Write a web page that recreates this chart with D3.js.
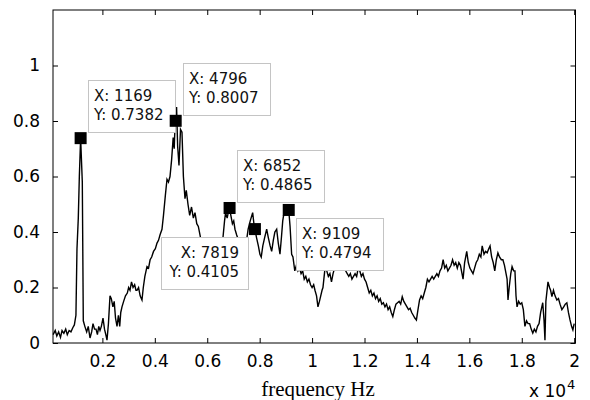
<!DOCTYPE html>
<html>
<head>
<meta charset="utf-8">
<script src="https://cdn.jsdelivr.net/npm/d3@7/dist/d3.min.js"></script>
<style>
  html, body { margin: 0; padding: 0; background: #fff; }
  svg { display: block; }
</style>
</head>
<body>
<div id="chart"></div>
<script>
// Magnitude spectrum: sample frequencies (Hz) and normalised amplitude
const freqHz = [
  120, 200, 260, 330, 400, 460, 530, 600, 660, 730,
  800, 870, 930, 990, 1030, 1080, 1120, 1169, 1233, 1271,
  1330, 1400, 1460, 1527, 1590, 1641, 1700, 1756, 1810, 1860,
  1908, 1960, 2023, 2080, 2130, 2175, 2230, 2290, 2340, 2400,
  2450, 2500, 2557, 2610, 2660, 2700, 2747, 2810, 2880, 2950,
  3000, 3053, 3110, 3170, 3230, 3280, 3320, 3380, 3440, 3510,
  3560, 3620, 3701, 3760, 3820, 3880, 3950, 4020, 4083, 4140,
  4200, 4273, 4330, 4400, 4464, 4520, 4579, 4640, 4700, 4740,
  4769, 4796, 4830, 4870, 4922, 4980, 5036, 5090, 5151, 5200,
  5265, 5330, 5400, 5470, 5532, 5600, 5660, 5723, 5800, 5880,
  5960, 6040, 6120, 6200, 6280, 6360, 6440, 6520, 6600, 6660,
  6700, 6760, 6800, 6852, 6900, 6960, 7010, 7058, 7120, 7190,
  7260, 7330, 7400, 7460, 7500, 7560, 7640, 7733, 7780, 7819,
  7880, 7950, 8010, 8060, 8120, 8190, 8267, 8330, 8400, 8458,
  8520, 8580, 8649, 8710, 8775, 8830, 8880, 8930, 9000, 9050,
  9109, 9160, 9220, 9270, 9340, 9400, 9460, 9520, 9580, 9640,
  9700, 9760, 9820, 9880, 9940, 10000, 10060, 10110, 10170, 10224,
  10280, 10330, 10380, 10415, 10460, 10500, 10560, 10620, 10680, 10740,
  10800, 10860, 10920, 10980, 11040, 11100, 11160, 11220, 11280, 11340,
  11400, 11460, 11520, 11580, 11640, 11700, 11760, 11820, 11880, 11940,
  12000, 12060, 12120, 12180, 12240, 12300, 12360, 12420, 12480, 12540,
  12600, 12660, 12720, 12780, 12840, 12900, 12960, 13020, 13080, 13140,
  13200, 13260, 13320, 13380, 13440, 13500, 13560, 13620, 13680, 13740,
  13800, 13860, 13920, 13980, 14040, 14100, 14160, 14220, 14280, 14340,
  14400, 14460, 14520, 14580, 14640, 14700, 14760, 14820, 14880, 14940,
  15000, 15060, 15120, 15180, 15240, 15300, 15360, 15420, 15480, 15540,
  15600, 15660, 15720, 15760, 15820, 15900, 15960, 16020, 16080, 16140,
  16200, 16260, 16320, 16380, 16440, 16490, 16560, 16620, 16680, 16740,
  16790, 16850, 16910, 16970, 17030, 17090, 17150, 17220, 17280, 17340,
  17400, 17440, 17475, 17520, 17580, 17630, 17690, 17740, 17780, 17820,
  17880, 17940, 18000, 18060, 18120, 18180, 18240, 18300, 18360, 18420,
  18480, 18540, 18600, 18660, 18720, 18800, 18850, 18885, 18920, 19000,
  19060, 19100, 19150, 19210, 19270, 19340, 19400, 19460, 19530, 19600,
  19660, 19720, 19780, 19840, 19900, 19950, 20000
];
const magnitude = [
  0.03, 0.045, 0.025, 0.04, 0.02, 0.045, 0.035, 0.05, 0.03, 0.045,
  0.04, 0.055, 0.065, 0.1, 0.34, 0.45, 0.6, 0.7382, 0.58, 0.08,
  0.06, 0.04, 0.06, 0.018, 0.04, 0.07, 0.05, 0.05, 0.03, 0.06,
  0.045, 0.06, 0.09, 0.05, 0.03, 0.01, 0.07, 0.17, 0.16, 0.13,
  0.15, 0.09, 0.06, 0.1, 0.06, 0.11, 0.13, 0.15, 0.17, 0.18,
  0.2, 0.19, 0.22, 0.2, 0.21, 0.19, 0.19, 0.2, 0.17, 0.155,
  0.2, 0.24, 0.275, 0.27, 0.3, 0.31, 0.33, 0.34, 0.36, 0.37,
  0.39, 0.41, 0.46, 0.53, 0.59, 0.58, 0.6, 0.66, 0.74, 0.7,
  0.78, 0.8007, 0.85, 0.71, 0.64, 0.77, 0.76, 0.6, 0.52, 0.55,
  0.5, 0.46, 0.49, 0.45, 0.47, 0.43, 0.42, 0.39, 0.35, 0.32,
  0.34, 0.3, 0.33, 0.36, 0.33, 0.35, 0.37, 0.36, 0.38, 0.44,
  0.47, 0.45, 0.47, 0.4865, 0.46, 0.43, 0.44, 0.41, 0.39, 0.37,
  0.35, 0.34, 0.33, 0.35, 0.37, 0.41, 0.44, 0.47, 0.43, 0.4105,
  0.38, 0.35, 0.32, 0.31, 0.35, 0.38, 0.41, 0.38, 0.35, 0.33,
  0.37, 0.4, 0.41, 0.36, 0.32, 0.38, 0.44, 0.47, 0.48, 0.47,
  0.4794, 0.42, 0.32, 0.31, 0.26, 0.28, 0.26, 0.27, 0.25, 0.26,
  0.23, 0.24, 0.22, 0.23, 0.21, 0.2, 0.21, 0.19, 0.17, 0.13,
  0.15, 0.17, 0.19, 0.2, 0.24, 0.275, 0.26, 0.24, 0.25, 0.22,
  0.25, 0.27, 0.29, 0.3, 0.28, 0.29, 0.27, 0.28, 0.26, 0.25,
  0.24, 0.25, 0.23, 0.24, 0.25, 0.24, 0.27, 0.26, 0.24, 0.25,
  0.23, 0.22, 0.2, 0.18, 0.19, 0.17, 0.18, 0.16, 0.17, 0.15,
  0.16, 0.14, 0.145, 0.13, 0.14, 0.12, 0.13, 0.11, 0.095, 0.12,
  0.14, 0.145, 0.15, 0.14, 0.167, 0.15, 0.14, 0.13, 0.12, 0.125,
  0.11, 0.1, 0.09, 0.083, 0.12, 0.155, 0.17, 0.16, 0.18, 0.2,
  0.23, 0.22, 0.23, 0.24, 0.23, 0.24, 0.25, 0.24, 0.26, 0.27,
  0.3, 0.27, 0.28, 0.26, 0.27, 0.28, 0.3, 0.28, 0.29, 0.27,
  0.29, 0.28, 0.25, 0.23, 0.29, 0.33, 0.29, 0.27, 0.26, 0.25,
  0.27, 0.29, 0.3, 0.32, 0.31, 0.35, 0.32, 0.33, 0.325, 0.34,
  0.35, 0.31, 0.29, 0.26, 0.3, 0.325, 0.31, 0.3, 0.3, 0.28,
  0.25, 0.23, 0.155, 0.2, 0.25, 0.275, 0.26, 0.26, 0.17, 0.13,
  0.15, 0.14, 0.145, 0.12, 0.06, 0.08, 0.07, 0.07, 0.05, 0.036,
  0.05, 0.04, 0.06, 0.07, 0.11, 0.145, 0.08, 0.01, 0.15, 0.22,
  0.2, 0.19, 0.167, 0.19, 0.17, 0.155, 0.16, 0.14, 0.12, 0.13,
  0.14, 0.145, 0.11, 0.083, 0.06, 0.047, 0.07
];

// Data tips placed on the spectrum
const tipFreq = [1169, 4796, 6852, 7819, 9109];
const tipValue = [0.7382, 0.8007, 0.4865, 0.4105, 0.4794];
// which side of the marker each tip box sits on
const tipSide = ["upRight", "upRight", "upRight", "downLeft", "downRight"];

// Axis ticks
const xTicks = [2000, 4000, 6000, 8000, 10000, 12000, 14000, 16000, 18000, 20000];
const xTickLabels = ["0.2", "0.4", "0.6", "0.8", "1", "1.2", "1.4", "1.6", "1.8", "2"];
const yTicks = [0, 0.2, 0.4, 0.6, 0.8, 1];
const yTickLabels = ["0", "0.2", "0.4", "0.6", "0.8", "1"];

const W = 590, H = 400;
const plotL = 53, plotR = 575.5, plotT = 10, plotB = 343;

const svg = d3.select("#chart").append("svg")
  .attr("width", W).attr("height", H);

const x = d3.scaleLinear().domain([115, 20050]).range([plotL, plotR]);
const y = d3.scaleLinear().domain([0, 1.2]).range([plotB, plotT]);

const sans = "'DejaVu Sans', 'Liberation Sans', Arial, sans-serif";

// spectrum trace
const series = freqHz.map((f, i) => ({ f, v: magnitude[i] }));
svg.append("path")
  .datum(series)
  .attr("fill", "none")
  .attr("stroke", "#000")
  .attr("stroke-width", 1.4)
  .attr("stroke-linejoin", "miter")
  .attr("d", d3.line().x(d => x(d.f)).y(d => y(d.v)));

// axes with inward ticks on all four sides
const tickLen = 5;
const xBottom = d3.axisBottom(x).tickValues(xTicks).tickSize(-tickLen)
  .tickFormat((d, i) => xTickLabels[i]).tickPadding(12);
const xTop = d3.axisTop(x).tickValues(xTicks).tickSize(-tickLen).tickFormat("");
const yLeft = d3.axisLeft(y).tickValues(yTicks).tickSize(-tickLen)
  .tickFormat((d, i) => yTickLabels[i]).tickPadding(13);
const yRight = d3.axisRight(y).tickValues(yTicks).tickSize(-tickLen).tickFormat("");

function styleAxis(g) {
  g.select(".domain").remove();
  g.selectAll(".tick line").attr("stroke", "#000").attr("stroke-width", 1);
  g.selectAll(".tick text").attr("fill", "#000")
    .style("font-family", sans).style("font-size", "17px");
}

svg.append("g").attr("transform", `translate(0,${plotB})`).call(xBottom).call(styleAxis);
svg.append("g").attr("transform", `translate(0,${plotT})`).call(xTop).call(styleAxis);
svg.append("g").attr("transform", `translate(${plotL},0)`).call(yLeft).call(styleAxis);
svg.append("g").attr("transform", `translate(${plotR},0)`).call(yRight).call(styleAxis);

// axes frame
svg.append("rect")
  .attr("x", plotL).attr("y", plotT)
  .attr("width", plotR - plotL).attr("height", plotB - plotT)
  .attr("fill", "none").attr("stroke", "#000").attr("stroke-width", 1);

// data tips: box + marker
const boxW = 87, boxH = 52, gap = 7;
const tips = tipFreq.map((f, i) => ({ f, v: tipValue[i], side: tipSide[i] }));
const tipG = svg.append("g");
tips.forEach(t => {
  const px = x(t.f), py = y(t.v);
  const toLeft = t.side.endsWith("Left");
  const up = t.side.startsWith("up");
  const bx = toLeft ? px - gap - boxW : px + gap;
  const by = up ? py - 58 : py + 8;
  const g = tipG.append("g");
  g.append("rect")
    .attr("x", Math.round(bx) + 0.5).attr("y", Math.round(by) + 0.5)
    .attr("width", boxW).attr("height", boxH)
    .attr("fill", "#fff").attr("stroke", "#c4c4c4").attr("stroke-width", 1);
  const tx = toLeft ? Math.round(bx) + boxW - 9 : Math.round(bx) + 6;
  const anchor = toLeft ? "end" : "start";
  g.append("text")
    .attr("x", tx).attr("y", Math.round(by) + 21)
    .attr("text-anchor", anchor)
    .style("font-family", sans).style("font-size", "15px").attr("fill", "#111")
    .text("X: " + t.f);
  g.append("text")
    .attr("x", tx).attr("y", Math.round(by) + 39.5)
    .attr("text-anchor", anchor)
    .style("font-family", sans).style("font-size", "15px").attr("fill", "#111")
    .text("Y: " + t.v.toFixed(4));
});
tipG.selectAll(".marker")
  .data(tips).enter().append("rect")
  .attr("class", "marker")
  .attr("x", d => x(d.f) - 6).attr("y", d => y(d.v) - 6)
  .attr("width", 12).attr("height", 12)
  .attr("fill", "#000");

// axis label and exponent
svg.append("text")
  .attr("x", 318).attr("y", 396)
  .attr("text-anchor", "middle")
  .style("font-family", "'Liberation Serif', 'Times New Roman', serif")
  .style("font-size", "21px").attr("fill", "#000")
  .text("frequency Hz");

const expo = svg.append("text")
  .attr("x", 529).attr("y", 396.5)
  .style("font-family", sans).style("font-size", "17px").attr("fill", "#000");
expo.append("tspan").text("x 10");
expo.append("tspan").attr("dx", 1).attr("dy", -8).style("font-size", "13px").text("4");
</script>
</body>
</html>
